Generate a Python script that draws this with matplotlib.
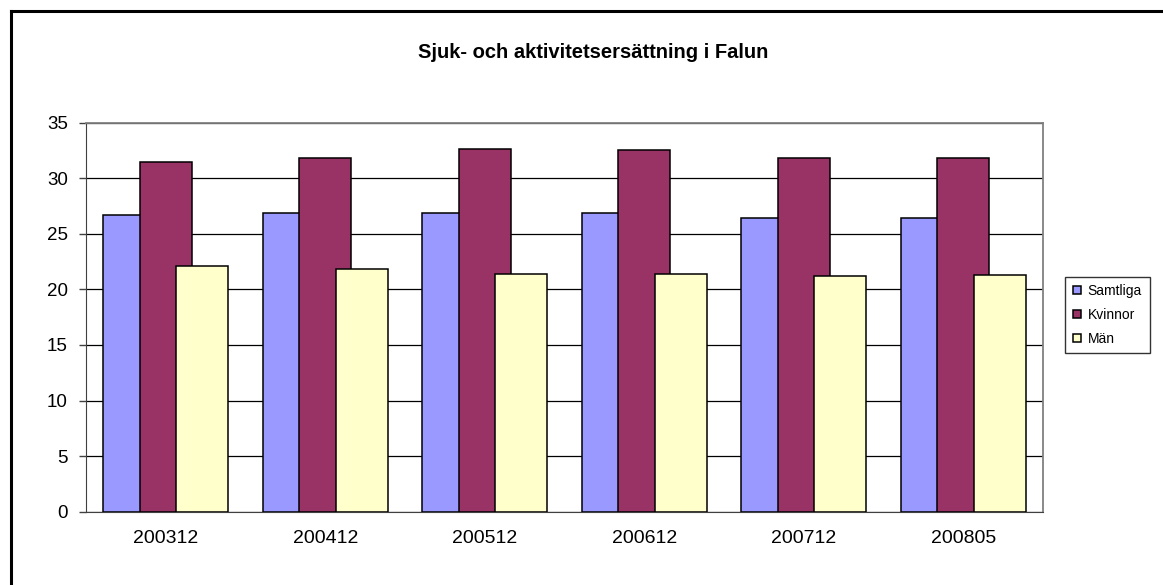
import numpy as np
import matplotlib
matplotlib.use("Agg")
import matplotlib.pyplot as plt
from matplotlib.lines import Line2D

plt.rcParams['font.family'] = ['Liberation Sans', 'DejaVu Sans']

# data ---------------------------------------------------------------------
perioder = ['200312', '200412', '200512', '200612', '200712', '200805']
samtliga = [26.7, 26.9, 26.9, 26.9, 26.4, 26.4]
kvinnor = [31.5, 31.8, 32.6, 32.5, 31.8, 31.8]
man = [22.1, 21.8, 21.4, 21.4, 21.2, 21.3]

serier = ['Samtliga', 'Kvinnor', 'Män']
farger = ['#9999FF', '#993366', '#FFFFCC']

# plot ---------------------------------------------------------------------
W, H = 1163, 585
fig = plt.figure(figsize=(W / 100, H / 100), dpi=100)
ax = fig.add_axes([86 / W, 1 - 511.7 / H, (1043 - 86) / W, (511.7 - 122.7) / H])

x = np.arange(len(perioder))
bredd = 0.326
steg = 0.228
for i, (vals, col, namn) in enumerate(zip([samtliga, kvinnor, man], farger, serier)):
    ax.bar(x + (i - 1) * steg, vals, width=bredd, color=col, edgecolor='black',
           linewidth=1.1, label=namn, zorder=2 + i)

ax.set_xlim(-0.5, len(perioder) - 0.5)
ax.set_ylim(0, 35)
ax.set_yticks(range(0, 36, 5))
ax.set_xticks(x)
ax.set_xticklabels(perioder)
ax.tick_params(axis='x', length=0, pad=13, labelsize=14)
ax.tick_params(axis='y', length=5, width=1, pad=8, labelsize=13.5, color='#404040')
ax.yaxis.grid(True, color='black', linewidth=0.9, zorder=1)
ax.set_axisbelow(True)

for s in ['top', 'right']:
    ax.spines[s].set_color('#808080')
    ax.spines[s].set_linewidth(1.3)
ax.spines['left'].set_color('#404040')
ax.spines['bottom'].set_color('#404040')

fig.text(593 / W, 1 - 52 / H, 'Sjuk- och aktivitetsersättning i Falun',
         ha='center', va='center', fontsize=14.5, fontweight='bold')

handles = [Line2D([], [], marker='s', linestyle='none', markersize=6,
                  markerfacecolor=c, markeredgecolor='black', markeredgewidth=1.1)
           for c in farger]
leg = fig.legend(handles, serier, loc='upper left',
                 bbox_to_anchor=(1064.7 / W, 1 - 276.7 / H),
                 fontsize=10, frameon=True, fancybox=False, handlelength=0.7,
                 handletextpad=0.4, labelspacing=0.7, borderpad=0.55,
                 borderaxespad=0)
leg.get_frame().set_edgecolor('black')
leg.get_frame().set_linewidth(1.0)

# outer border (top and left visible)
fig.add_artist(Line2D([11 / W, 11 / W], [0, 1 - 11 / H], color='black', linewidth=2.2,
                      transform=fig.transFigure))
fig.add_artist(Line2D([11 / W, 1], [1 - 11 / H, 1 - 11 / H], color='black', linewidth=2.2,
                      transform=fig.transFigure))

plt.savefig('out.png', dpi=100)
